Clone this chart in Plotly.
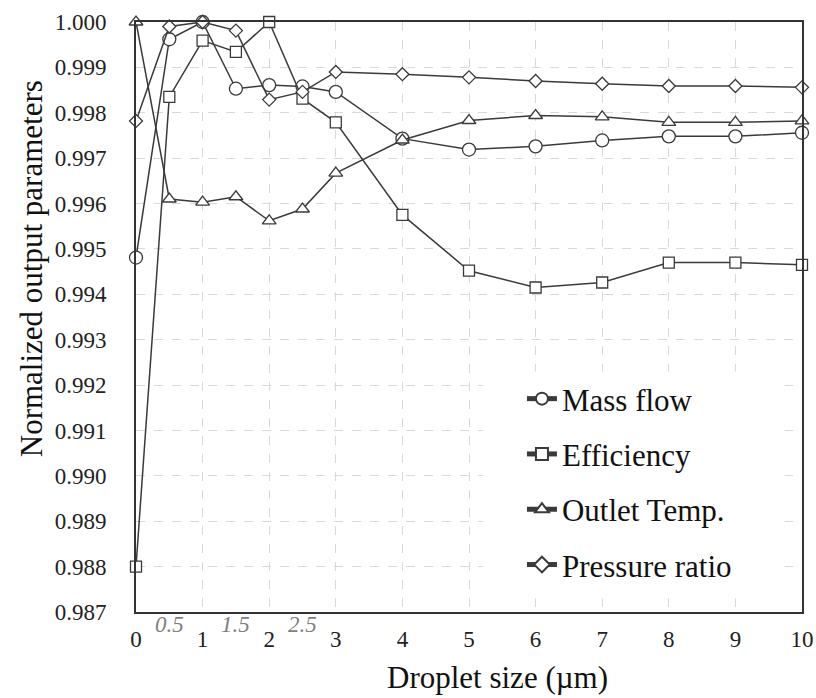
import plotly.graph_objects as go

droplet_size = [0, 0.5, 1, 1.5, 2, 2.5, 3, 4, 5, 6, 7, 8, 9, 10]
mass_flow = [0.99481, 0.99962, 1.00000, 0.99853, 0.99861, 0.99858, 0.99846,
             0.99743, 0.99719, 0.99726, 0.99739, 0.99748, 0.99748, 0.99756]
efficiency = [0.98800, 0.99835, 0.99959, 0.99934, 1.00000, 0.99831, 0.99779,
              0.99575, 0.99452, 0.99415, 0.99426, 0.99470, 0.99470, 0.99465]
outlet_temp = [1.00000, 0.99610, 0.99603, 0.99615, 0.99562, 0.99588, 0.99667,
               0.99740, 0.99783, 0.99794, 0.99791, 0.99779, 0.99779, 0.99782]
pressure_ratio = [0.99782, 0.99990, 1.00000, 0.99981, 0.99829, 0.99846, 0.99890,
                  0.99885, 0.99878, 0.99870, 0.99864, 0.99859, 0.99859, 0.99856]

series_names = ["Mass flow", "Efficiency", "Outlet Temp.", "Pressure ratio"]
half_tick_values = [0.5, 1.5, 2.5]
half_tick_labels = ["0.5", "1.5", "2.5"]
y_tick_values = [round(0.987 + 0.001 * i, 3) for i in range(14)]

FONT = "Liberation Serif"
LINE = "#3a3a3a"

styles = [
    ("circle", 13),
    ("square", 11),
    ("triangle-up", 12),
    ("diamond", 10),
]
data = [mass_flow, efficiency, outlet_temp, pressure_ratio]

fig = go.Figure()
for i, (name, ys, (sym, sz)) in enumerate(zip(series_names, data, styles)):
    fig.add_trace(go.Scatter(
        x=droplet_size, y=ys, name=name, mode="lines+markers",
        line=dict(color=LINE, width=1.5),
        marker=dict(symbol=sym, size=sz, color="white",
                    line=dict(color=LINE, width=1.3)),
        cliponaxis=False, legendgroup=f"g{i}",
    ))

# white area behind legend (hides gridlines)
fig.add_shape(type="rect", xref="x", yref="y", x0=5.21, x1=9.74,
              y0=0.9873, y1=0.9923, fillcolor="white", line_width=0,
              layer="between")

for v, t in zip(half_tick_values, half_tick_labels):
    fig.add_annotation(x=v, xref="x", y=0, yref="paper", text=f"<i>{t}</i>",
                       showarrow=False, yanchor="top", yshift=2,
                       font=dict(family=FONT, size=23, color="#7f7f7f"))

fig.add_annotation(text="Droplet size (µm)", xref="paper", yref="paper",
                   x=0.5435, y=0, yanchor="middle", yshift=-65,
                   showarrow=False, font=dict(family=FONT, size=31, color="#111"))
fig.add_annotation(text="Normalized output parameters", xref="paper", yref="paper",
                   x=0, xshift=-105, y=0.581, textangle=-90,
                   xanchor="center", yanchor="middle",
                   showarrow=False, font=dict(family=FONT, size=31, color="#111"))

fig.update_xaxes(range=[0, 10], tickvals=list(range(0, 11)),
                 ticktext=[str(v) for v in range(0, 11)],
                 showgrid=True, gridcolor="#d9d9d9", griddash="dash", gridwidth=1,
                 showline=True, mirror=True, linecolor="#333", linewidth=2,
                 ticks="", ticklabelstandoff=5, zeroline=False, automargin=False,
                 tickfont=dict(family=FONT, size=23, color="#222"))
fig.update_yaxes(range=[0.987, 1.000], tickvals=y_tick_values,
                 ticktext=[f"{v:.3f}" for v in y_tick_values],
                 showgrid=True, gridcolor="#d9d9d9", griddash="dash", gridwidth=1,
                 showline=True, mirror=True, linecolor="#333", linewidth=2,
                 ticks="", ticklabelstandoff=23, zeroline=False, automargin=False,
                 tickfont=dict(family=FONT, size=23, color="#222"))

fig.update_layout(
    width=816, height=698,
    margin=dict(l=136, r=14, t=22, b=86),
    paper_bgcolor="white", plot_bgcolor="white",
    font=dict(family=FONT),
    showlegend=True,
    legend=dict(x=0.5795, xanchor="left", y=0.4068, yanchor="top",
                bgcolor="rgba(0,0,0,0)", borderwidth=0,
                font=dict(family=FONT, size=31, color="#111"),
                tracegroupgap=12, traceorder="grouped", itemsizing="constant"),
)

# remove the browser's default 8px body margin so the figure fills the window
fig.write_html("out.html", config={"displayModeBar": False},
               post_script="document.body.style.margin='0';document.body.style.overflow='hidden';")
